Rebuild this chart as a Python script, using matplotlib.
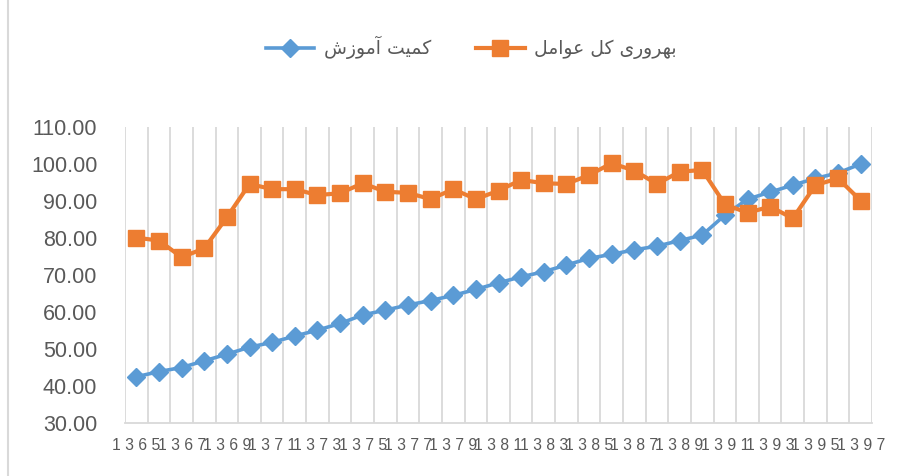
import matplotlib
matplotlib.use("Agg")
import matplotlib.pyplot as plt
from matplotlib.lines import Line2D

# years (Solar Hijri)
years = list(range(1365, 1398))

# کمیت آموزش
education = [42.5, 43.9, 45.0, 46.8, 48.6, 50.5, 51.8, 53.5, 55.1, 56.9,
             59.2, 60.5, 61.9, 63.1, 64.5, 66.1, 67.9, 69.5, 70.9, 72.7,
             74.5, 75.6, 76.8, 77.8, 79.3, 80.8, 86.2, 90.5, 92.4, 94.3,
             96.1, 97.6, 100.0]

# بهروری کل عوامل
tfp = [80.1, 79.3, 74.8, 77.2, 85.6, 94.6, 93.2, 93.2, 91.6, 92.1,
       94.8, 92.5, 92.2, 90.5, 93.2, 90.5, 92.8, 95.7, 94.8, 94.6,
       97.0, 100.2, 98.2, 94.6, 97.9, 98.4, 89.1, 86.8, 88.5, 85.3,
       94.3, 96.1, 90.1]

# Persian labels, pre-shaped (presentation forms, visual order) since
# matplotlib does no Arabic shaping / bidi
label_edu = "\uFEB5\uFEAF\uFEEE\uFEE3\uFE81 \uFE96\uFEF4\uFEE4\uFEDB"
label_tfp = "\uFEDE\uFEE3\uFE8D\uFEEE\uFECB \uFEDE\uFEDB \uFEEF\uFEAD\uFEED\uFEAE\uFEEC\uFE91"

y_ticks = [30, 40, 50, 60, 70, 80, 90, 100, 110]

BLUE = "#5B9BD5"
ORANGE = "#ED7D31"
GRID = "#D9D9D9"
TEXT = "#595959"

fig = plt.figure(figsize=(9.06, 4.76), dpi=100)
ax = fig.add_axes([0.138, 0.1113, 0.8245, 0.6219])

x = list(range(len(years)))
ax.plot(x, education, color=BLUE, lw=2.6, marker="D", ms=9.5,
        mec=BLUE, mfc=BLUE, label=label_edu, zorder=3)
ax.plot(x, tfp, color=ORANGE, lw=3, marker="s", ms=12,
        mec=ORANGE, mfc=ORANGE, label=label_tfp, zorder=4)

ax.set_xlim(-0.5, len(years) - 0.5)
ax.set_ylim(30, 110)

# vertical gridlines between categories (Excel style)
for b in range(len(years) + 1):
    ax.axvline(b - 0.5, color=GRID, lw=1.3, zorder=1)

for side in ["left", "right", "top"]:
    ax.spines[side].set_visible(False)
ax.spines["bottom"].set_color(GRID)
ax.spines["bottom"].set_linewidth(1.3)

ax.set_yticks(y_ticks)
ax.set_yticklabels([f"{v:.2f}" for v in y_ticks], fontsize=15.5,
                   color=TEXT, family="Liberation Sans")
ax.set_xticks(x[::2])
ax.set_xticklabels([" ".join(str(y)) for y in years[::2]], fontsize=11.3,
                   color=TEXT, family="Liberation Sans")
ax.tick_params(axis="both", length=0)
ax.tick_params(axis="y", pad=20)
ax.tick_params(axis="x", pad=11)

leg = fig.legend(loc="center", bbox_to_anchor=(0.52, 0.9), ncol=2,
                 frameon=False, handlelength=2.6, columnspacing=2.4,
                 handletextpad=0.5,
                 prop={"family": "DejaVu Sans", "size": 13.5})
for t in leg.get_texts():
    t.set_color(TEXT)

# chart area border on the left
fig.add_artist(Line2D([0.009, 0.009], [0.0, 1.0], color=GRID, lw=1.5,
                      transform=fig.transFigure))

fig.savefig("out.png", dpi=100)
